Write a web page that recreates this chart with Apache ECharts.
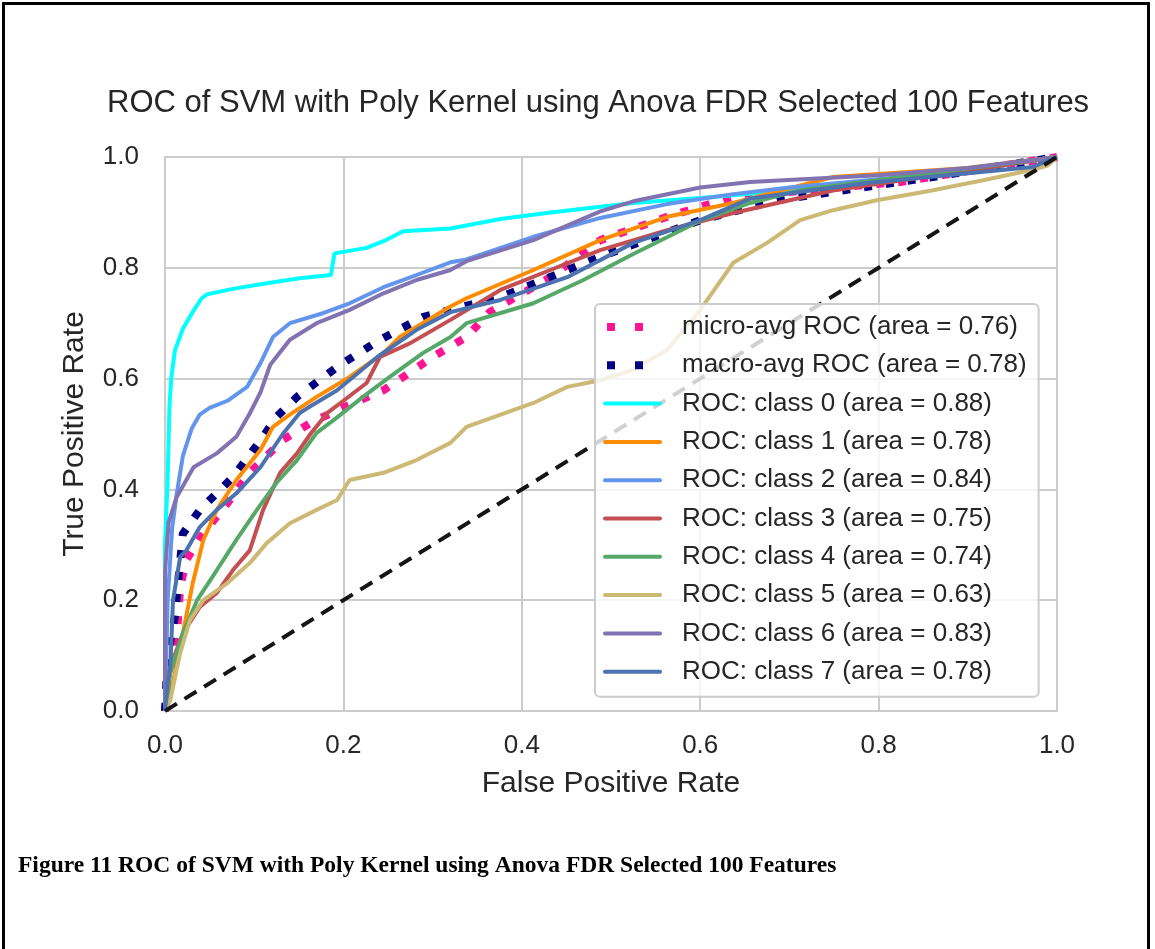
<!DOCTYPE html>
<html>
<head>
<meta charset="utf-8">
<script src="https://cdn.jsdelivr.net/npm/echarts@6/dist/echarts.min.js"></script>
<style>
  html, body { margin: 0; padding: 0; background: #fff; }
  #chart { width: 1155px; height: 949px; position: relative; }
  #frame {
    position: absolute; left: 2px; top: 2px; width: 1148px; height: 990px;
    border: 3px solid #000; pointer-events: none; box-sizing: border-box;
  }
</style>
</head>
<body>
<div id="chart"></div>
<div id="frame"></div>
<script>
// names shown in the legend, in plot order
const seriesNames = [
    'micro-avg ROC (area = 0.76)',
    'macro-avg ROC (area = 0.78)',
    'ROC: class 0 (area = 0.88)',
    'ROC: class 1 (area = 0.78)',
    'ROC: class 2 (area = 0.84)',
    'ROC: class 3 (area = 0.75)',
    'ROC: class 4 (area = 0.74)',
    'ROC: class 5 (area = 0.63)',
    'ROC: class 6 (area = 0.83)',
    'ROC: class 7 (area = 0.78)'
];
const tickLabels = ['0.0', '0.2', '0.4', '0.6', '0.8', '1.0'];

// [fpr, tpr] points
const microAvg = [[0,0],[0.005,0.06],[0.013,0.128],[0.017,0.224],[0.024,0.273],[0.043,0.321],[0.07,0.375],[0.095,0.43],[0.132,0.489],[0.163,0.52],[0.207,0.553],[0.245,0.579],[0.3,0.639],[0.338,0.675],[0.364,0.72],[0.432,0.783],[0.488,0.85],[0.563,0.892],[0.637,0.928],[0.824,0.955],[1,1]];
const macroAvg = [[0,0],[0.003,0.1],[0.011,0.17],[0.02,0.32],[0.039,0.363],[0.058,0.393],[0.076,0.422],[0.092,0.456],[0.11,0.495],[0.125,0.531],[0.148,0.567],[0.193,0.621],[0.241,0.67],[0.289,0.711],[0.32,0.724],[0.376,0.747],[0.488,0.82],[0.6,0.886],[0.686,0.922],[0.861,0.964],[1,1]];
const class0 = [[0,0],[0,0.3],[0.003,0.42],[0.005,0.55],[0.007,0.6],[0.011,0.65],[0.02,0.69],[0.031,0.72],[0.041,0.745],[0.047,0.752],[0.076,0.762],[0.114,0.772],[0.151,0.781],[0.186,0.787],[0.19,0.826],[0.226,0.836],[0.245,0.848],[0.267,0.866],[0.32,0.871],[0.376,0.888],[0.428,0.899],[0.488,0.91],[0.525,0.917],[0.6,0.926],[0.637,0.931],[0.7,0.94],[0.8,0.953],[0.9,0.975],[1,1]];
const class1 = [[0,0],[0.005,0.02],[0.02,0.14],[0.031,0.23],[0.043,0.309],[0.058,0.363],[0.08,0.417],[0.107,0.471],[0.121,0.513],[0.14,0.535],[0.17,0.567],[0.207,0.603],[0.245,0.646],[0.263,0.675],[0.32,0.73],[0.338,0.745],[0.413,0.796],[0.488,0.85],[0.563,0.892],[0.637,0.917],[0.749,0.964],[0.9,0.98],[1,1]];
const class2 = [[0,0],[0.003,0.2],[0.008,0.33],[0.013,0.39],[0.02,0.46],[0.03,0.51],[0.039,0.535],[0.05,0.547],[0.07,0.56],[0.092,0.585],[0.107,0.628],[0.121,0.675],[0.14,0.7],[0.177,0.718],[0.207,0.736],[0.245,0.765],[0.282,0.787],[0.32,0.81],[0.338,0.815],[0.413,0.856],[0.488,0.89],[0.563,0.915],[0.637,0.933],[0.7,0.945],[0.8,0.96],[0.9,0.975],[1,1]];
const class3 = [[0,0],[0.006,0.08],[0.02,0.14],[0.039,0.188],[0.058,0.213],[0.076,0.254],[0.095,0.29],[0.11,0.363],[0.129,0.43],[0.148,0.465],[0.163,0.5],[0.182,0.538],[0.2,0.56],[0.226,0.592],[0.241,0.639],[0.275,0.664],[0.32,0.706],[0.376,0.76],[0.432,0.796],[0.488,0.832],[0.563,0.868],[0.637,0.899],[0.75,0.94],[0.9,0.975],[1,1]];
const class4 = [[0,0],[0.006,0.069],[0.02,0.14],[0.036,0.2],[0.058,0.254],[0.08,0.309],[0.103,0.363],[0.125,0.412],[0.148,0.453],[0.17,0.502],[0.193,0.53],[0.222,0.567],[0.252,0.603],[0.289,0.646],[0.32,0.675],[0.338,0.7],[0.413,0.736],[0.469,0.778],[0.525,0.825],[0.6,0.885],[0.656,0.917],[0.712,0.94],[0.861,0.971],[1,1]];
const class5 = [[0,0],[0.006,0.02],[0.017,0.105],[0.028,0.164],[0.043,0.2],[0.07,0.231],[0.095,0.267],[0.114,0.303],[0.14,0.339],[0.17,0.363],[0.193,0.381],[0.207,0.417],[0.245,0.43],[0.282,0.453],[0.32,0.484],[0.338,0.513],[0.413,0.556],[0.451,0.585],[0.488,0.597],[0.525,0.616],[0.563,0.652],[0.6,0.724],[0.637,0.809],[0.675,0.845],[0.712,0.886],[0.749,0.904],[0.798,0.922],[0.861,0.94],[0.917,0.958],[0.973,0.977],[0.99,0.985],[1,1]];
const class6 = [[0,0],[0,0.25],[0.004,0.34],[0.013,0.386],[0.032,0.44],[0.058,0.465],[0.08,0.495],[0.095,0.537],[0.107,0.575],[0.118,0.625],[0.14,0.67],[0.17,0.7],[0.207,0.724],[0.245,0.754],[0.282,0.778],[0.32,0.796],[0.338,0.812],[0.413,0.85],[0.488,0.902],[0.525,0.92],[0.6,0.945],[0.656,0.955],[0.8,0.967],[0.9,0.98],[1,1]];
const class7 = [[0,0],[0.003,0.05],[0.006,0.08],[0.009,0.2],[0.017,0.278],[0.024,0.29],[0.039,0.332],[0.058,0.363],[0.08,0.393],[0.107,0.44],[0.132,0.5],[0.151,0.538],[0.163,0.55],[0.193,0.579],[0.238,0.639],[0.282,0.688],[0.32,0.72],[0.376,0.742],[0.451,0.783],[0.525,0.845],[0.6,0.886],[0.656,0.925],[0.787,0.953],[0.973,0.982],[1,1]];
const chance = [[0,0],[1,1]];

const curveData = [microAvg, macroAvg, class0, class1, class2, class3, class4, class5, class6, class7];
const colors = ['#FF1493', '#000080', '#00FFFF', '#FF8C00', '#6495ED', '#C44E52', '#55A868', '#CCB974', '#8172B2', '#4C72B0'];

// legend handles: two squares for the dotted averages, a short bar for the rest
const dottedIcon = 'path://M0,0h0.1v0.1h-0.1zM4,0h8v8h-8zM32,0h8v8h-8zM58.9,7.9h0.1v0.1h-0.1z';
const solidIcon = 'path://M2,0h55a2,2 0 0 1 0,4h-55a2,2 0 0 1 0,-4z';

const chart = echarts.init(document.getElementById('chart'));

const series = curveData.map((d, i) => {
    const dotted = i < 2;
    return {
        name: seriesNames[i],
        type: 'line',
        data: d,
        symbol: 'none',
        showSymbol: false,
        silent: true,
        lineStyle: {
            color: colors[i],
            width: dotted ? 8 : 4,
            type: dotted ? [8, 14] : 'solid',
            cap: 'butt'
        },
        itemStyle: { color: colors[i] }
    };
});
// chance line
series.push({
    name: 'chance',
    type: 'line',
    data: chance,
    symbol: 'none',
    silent: true,
    lineStyle: { color: '#151515', width: 4, type: [14, 9] }
});

const option = {
    animation: false,
    title: [
        {
            text: 'ROC of SVM with Poly Kernel using Anova FDR Selected 100 Features',
            left: 107,
            top: 88,
            padding: 0,
            textStyle: { fontFamily: 'Liberation Sans', fontWeight: 'normal', fontSize: 31, color: '#262626' }
        },
        {
            text: 'Figure 11 ROC of SVM with Poly Kernel using Anova FDR Selected 100 Features',
            left: 18,
            top: 854,
            padding: 0,
            textStyle: { fontFamily: 'Liberation Serif', fontWeight: 'bold', fontSize: 23.5, color: '#000' }
        }
    ],
    grid: {
        left: 165,
        right: 98,
        top: 157,
        bottom: 238,
        show: true,
        borderColor: '#cccccc',
        borderWidth: 2,
        containLabel: false
    },
    legend: {
        data: seriesNames.map((n, i) => ({ name: n, icon: i < 2 ? dottedIcon : solidIcon })),
        orient: 'vertical',
        left: 595,
        top: 304,
        padding: [10, 12, 12, 8],
        itemWidth: 59,
        itemHeight: 8,
        itemGap: 12.3,
        backgroundColor: 'rgba(255,255,255,0.8)',
        borderColor: '#cccccc',
        borderWidth: 2,
        borderRadius: 5,
        selectedMode: false,
        itemStyle: { borderWidth: 0 },
        textStyle: {
            fontFamily: 'Liberation Sans',
            fontSize: 26,
            lineHeight: 26,
            color: '#262626',
            padding: [0, 0, 0, 15]
        }
    },
    xAxis: {
        type: 'value',
        min: 0,
        max: 1,
        interval: 0.2,
        name: 'False Positive Rate',
        nameLocation: 'middle',
        nameGap: 58,
        nameTextStyle: { fontFamily: 'Liberation Sans', fontSize: 30, color: '#262626' },
        axisLine: { show: false },
        axisTick: { show: false },
        axisLabel: {
            margin: 22,
            fontFamily: 'Liberation Sans',
            fontSize: 26,
            color: '#262626',
            formatter: (v) => tickLabels[Math.round(v * 5)]
        },
        splitLine: { lineStyle: { color: '#cccccc', width: 2 } }
    },
    yAxis: {
        type: 'value',
        min: 0,
        max: 1,
        interval: 0.2,
        name: 'True Positive Rate',
        nameLocation: 'middle',
        nameGap: 75,
        nameTextStyle: { fontFamily: 'Liberation Sans', fontSize: 30, color: '#262626' },
        axisLine: { show: false },
        axisTick: { show: false },
        axisLabel: {
            margin: 26,
            fontFamily: 'Liberation Sans',
            fontSize: 26,
            color: '#262626',
            formatter: (v) => tickLabels[Math.round(v * 5)]
        },
        splitLine: { lineStyle: { color: '#cccccc', width: 2 } }
    },
    series: series
};

chart.setOption(option);
</script>
</body>
</html>
